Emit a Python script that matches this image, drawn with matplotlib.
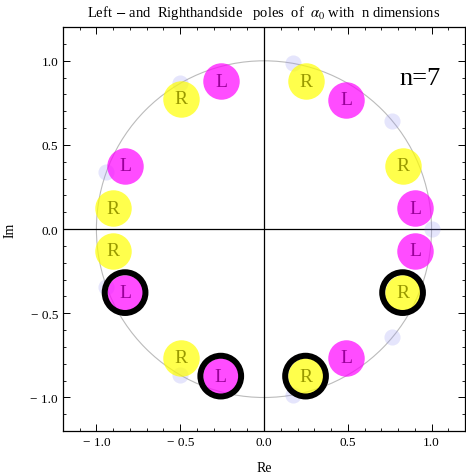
import matplotlib.pyplot as plt
from matplotlib.patches import Circle
from matplotlib.ticker import FixedLocator, FixedFormatter, MultipleLocator

plt.rcParams['font.family'] = ['Liberation Serif', 'DejaVu Serif']
plt.rcParams['mathtext.fontset'] = 'stix'

# poles
left_x = [-0.254, 0.49, -0.829, 0.903, -0.258, 0.49, -0.829, 0.903]
left_y = [0.879, 0.77, 0.377, 0.125, -0.873, -0.764, -0.377, -0.129]
right_x = [0.248, -0.496, 0.827, -0.903, 0.248, -0.496, 0.827, -0.903]
right_y = [0.879, 0.774, 0.377, 0.123, -0.873, -0.764, -0.377, -0.129]

# the ringed ones
ring_left_x = [-0.829, -0.258]
ring_left_y = [-0.377, -0.873]
ring_right_x = [0.827, 0.248]
ring_right_y = [-0.377, -0.873]

# pale points on the unit circle
root_x = [1.0, 0.766, 0.174, -0.5, -0.94, -0.94, -0.5, 0.174, 0.766]
root_y = [0.0, 0.643, 0.985, 0.866, 0.342, -0.342, -0.866, -0.985, -0.643]

tick_vals = [-1.0, -0.5, 0.0, 0.5, 1.0]
tick_labels = ["\u2212 1.0", "\u2212 0.5", "0.0", "0.5", "1.0"]

n_dim = 7

fig = plt.figure(figsize=(4.66, 4.77), dpi=100)
ax = fig.add_axes([0.135, 0.094, 0.863, 0.847])

ax.add_patch(Circle((0, 0), 1.0, fill=False, edgecolor="#bbbbbb", linewidth=0.8, zorder=1))
ax.axhline(0, color="black", linewidth=0.9, zorder=1.5)
ax.axvline(0, color="black", linewidth=0.9, zorder=1.5)

ax.scatter(root_x, root_y, s=135, color=(0.55, 0.55, 0.95, 0.22), linewidths=0, zorder=2)

mag = (1.0, 0.0, 1.0, 0.7)
yel = (1.0, 1.0, 0.0, 0.7)
ax.scatter(left_x, left_y, s=690, color=mag, linewidths=0, zorder=3)
ax.scatter(right_x, right_y, s=690, color=yel, linewidths=0, zorder=3)

ax.scatter(ring_left_x, ring_left_y, s=860, facecolors="none", edgecolors="black",
           linewidths=4.3, zorder=4)
ax.scatter(ring_right_x, ring_right_y, s=860, facecolors="none", edgecolors="black",
           linewidths=4.3, zorder=4)

for x, y in zip(left_x, left_y):
    ax.text(x, y, "L", color=(0.6, 0.0, 0.6), fontsize=14, ha="center", va="center", zorder=5)
for x, y in zip(right_x, right_y):
    ax.text(x, y, "R", color=(0.6, 0.6, 0.0), fontsize=14, ha="center", va="center", zorder=5)

ax.text(0.888, 0.874, "n=%d" % n_dim, fontsize=19, ha="center", va="center",
        transform=ax.transAxes)

ax.set_xlim(-1.2, 1.2)
ax.set_ylim(-1.2, 1.2)

for axis in (ax.xaxis, ax.yaxis):
    axis.set_major_locator(FixedLocator(tick_vals))
    axis.set_major_formatter(FixedFormatter(tick_labels))
    axis.set_minor_locator(MultipleLocator(0.1))

ax.tick_params(which="both", direction="in", top=True, right=True, labelsize=9.5)
ax.tick_params(which="major", length=5, width=0.7)
ax.tick_params(which="minor", length=2.5, width=0.6)
for sp in ax.spines.values():
    sp.set_linewidth(0.9)

ax.set_xlabel("Re", fontsize=10, labelpad=9)
ax.set_ylabel("Im", fontsize=10, labelpad=10)
ax.set_title(r"Left $-$ and  Righthandside   poles  of  $\alpha_0$ with  n dimensions",
             fontsize=10.5, pad=8)

fig.savefig("out.png", dpi=100)
